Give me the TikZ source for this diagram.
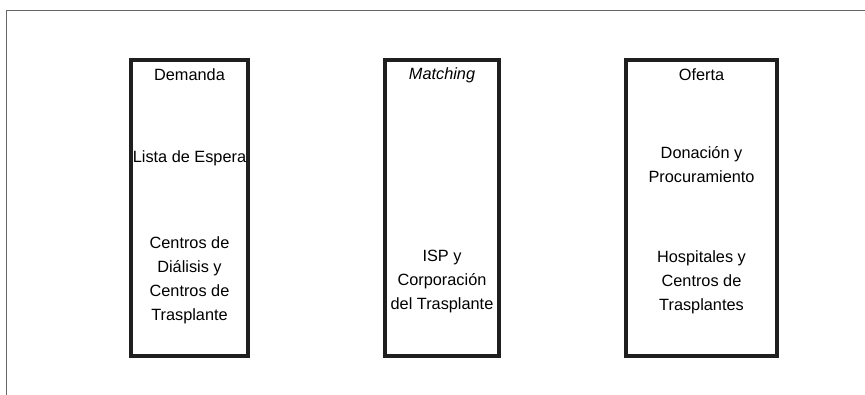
\documentclass[tikz,border=0pt]{standalone}
\usepackage{fontspec}
\setmainfont{Liberation Sans}
\begin{document}
\begin{tikzpicture}[x=1pt,y=-1pt,
  colbox/.style={draw=black!88,line width=3.5pt},
  lbl/.style={font=\fontsize{16.3}{24}\selectfont,align=center,inner sep=0pt,text=black},
  frame/.style={draw=black!60,line width=1pt}]
\useasboundingbox (0,0) rectangle (865,395);
\coordinate (fa) at (6,395);
\coordinate (fb) at (6,11);
\coordinate (fc) at (865,11);
\draw[frame] (fa) -- (fb) -- (fc);
% boxes
\node[colbox,minimum width=117pt,minimum height=296pt,inner sep=0pt] (dem) at (189.5,208) {};
\node[colbox,minimum width=114pt,minimum height=296pt,inner sep=0pt] (mat) at (442,208) {};
\node[colbox,minimum width=151pt,minimum height=296pt,inner sep=0pt] (ofe) at (701.5,208) {};
% left
\node[lbl] (d1) at (189.5,75) {Demanda};
\node[lbl] (d2) at (189.5,158) {Lista de Espera};
\node[lbl] (d3) at (189.5,280) {Centros de\\Diálisis y\\Centros de\\Trasplante};
% middle
\node[lbl] (m1) at (442,75) {\itshape Matching};
\node[lbl] (m2) at (442,282) {ISP y\\Corporación\\del Trasplante};
% right
\node[lbl] (o1) at (701.5,75) {Oferta};
\node[lbl] (o2) at (701.5,165) {Donación y\\Procuramiento};
\node[lbl] (o3) at (701.5,282) {Hospitales y\\Centros de\\Trasplantes};
\end{tikzpicture}
\end{document}
